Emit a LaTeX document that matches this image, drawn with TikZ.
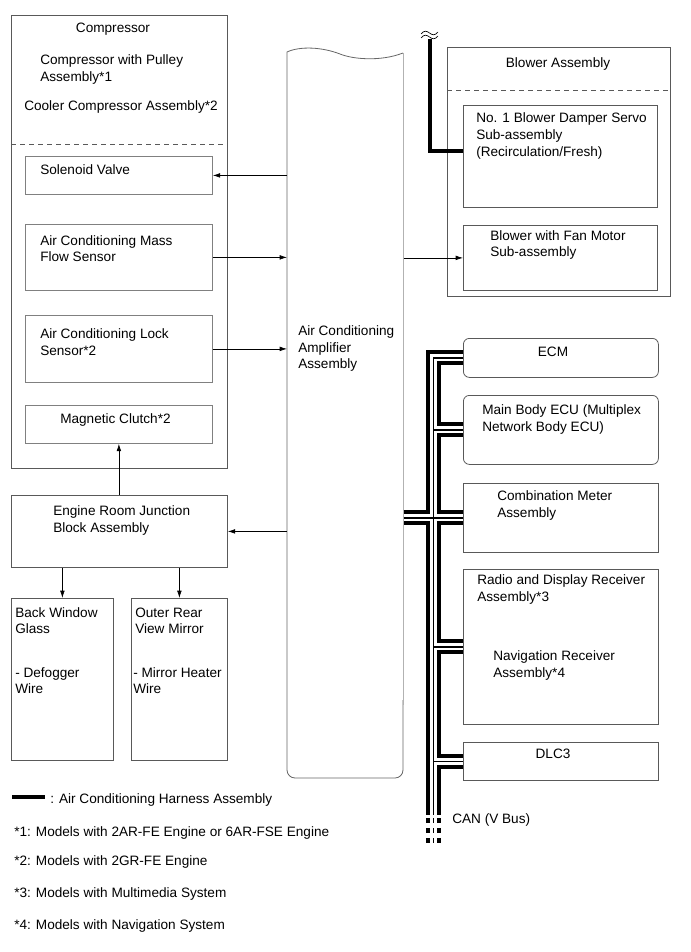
\documentclass[tikz,border=0pt]{standalone}
\usepackage{fontspec}
\setmainfont{Liberation Sans}
\usetikzlibrary{arrows.meta}
\def\u{0.75pt}
\newcommand\bxn[6]{\node[#1, minimum width={#5*\u}, minimum height={#6*\u}] (#2) at (#3,#4) {};}
\begin{document}
\begin{tikzpicture}[x=0.75pt,y=-0.75pt,
  obox/.style={draw=black!65, line width=0.6pt, anchor=north west, inner sep=0pt},
  ibox/.style={draw=black!50, line width=0.6pt, anchor=north west, inner sep=0pt},
  rbox/.style={obox, rounded corners=4.5pt},
  ghost/.style={anchor=north west, inner sep=0pt},
  txt/.style={anchor=base west, inner sep=0pt, font=\fontsize{10.2}{12}\selectfont},
  ctxt/.style={anchor=base, inner sep=0pt, font=\fontsize{10.2}{12}\selectfont},
  arr/.style={line width=0.5pt, -{Latex[length=5.5pt,width=3.5pt]}},
  harness/.style={line width=3pt},
  dline/.style={draw=black!65, line width=0.6pt, dash pattern=on 3.75pt off 3pt},
]
\useasboundingbox (0,0) rectangle (690,952);

% boxes
\bxn{obox}{comp}{11}{15}{216}{453}
\bxn{ibox}{sol}{25}{156}{187}{38}
\bxn{ibox}{maf}{25}{224}{187}{66}
\bxn{ibox}{lock}{25}{315}{187}{67}
\bxn{ibox}{mag}{25}{405}{187}{38}
\bxn{obox}{eng}{11}{495}{216}{72}
\bxn{obox}{bw}{11}{598}{102}{162}
\bxn{obox}{orm}{131}{598}{96}{162}
\bxn{obox}{blw}{447}{47}{223}{249}
\bxn{obox}{srv}{463}{105}{194}{102}
\bxn{obox}{fan}{463}{225}{194}{65}
\bxn{rbox}{ecm}{463}{338}{195}{39}
\bxn{rbox}{mbe}{463}{395}{195}{69}
\bxn{obox}{cm}{463}{483}{195}{69}
\bxn{obox}{rad}{463}{569}{195}{155}
\bxn{obox}{dlc}{463}{742}{195}{38}
\bxn{ghost}{amp}{287}{48}{116}{730}

\draw[dline] (11,144) -- (227,144);
\draw[dline] (447,90) -- (670,90);

% amplifier outline
\draw[draw=black!60, line width=0.6pt] (403,53) .. controls (380,62) and (352,59) .. (340,54)
  .. controls (322,47) and (300,46) .. (287,52) [rounded corners=6pt] -- (287,778) -- (403,778) -- (403,700);
\draw[draw=black!30, line width=0.6pt] (403,53) -- (403,705);

% texts
\node[ctxt] (t0) at (113,33) {Compressor};
\node[txt] (t1) at (40,65) {Compressor with Pulley};
\node[txt] (t2) at (40,82) {Assembly*1};
\node[txt] (t3) at (24,111) {Cooler Compressor Assembly*2};
\node[txt] (t4) at (40,175) {Solenoid Valve};
\node[txt] (t5) at (40,245) {Air Conditioning Mass};
\node[txt] (t6) at (40,262) {Flow Sensor};
\node[txt] (t7) at (40,338) {Air Conditioning Lock};
\node[txt] (t8) at (40,355) {Sensor*2};
\node[txt] (t9) at (60,423) {Magnetic Clutch*2};
\node[txt] (t10) at (53,515) {Engine Room Junction};
\node[txt] (t11) at (53,532) {Block Assembly};
\node[txt] (t12) at (15,617) {Back Window};
\node[txt] (t13) at (15,633) {Glass};
\node[txt] (t14) at (15,677) {- Defogger};
\node[txt] (t15) at (15,693) {Wire};
\node[txt] (t16) at (135,617) {Outer Rear};
\node[txt] (t17) at (135,633) {View Mirror};
\node[txt] (t18) at (133,677) {- Mirror Heater};
\node[txt] (t19) at (133,693) {Wire};
\node[txt] (t20) at (298,335) {Air Conditioning};
\node[txt] (t21) at (298,352) {Amplifier};
\node[txt] (t22) at (298,368) {Assembly};
\node[ctxt] (t23) at (558,68) {Blower Assembly};
\node[txt] (t24) at (476,123) {No. 1 Blower Damper Servo};
\node[txt] (t25) at (476,140) {Sub-assembly};
\node[txt] (t26) at (476,157) {(Recirculation/Fresh)};
\node[txt] (t27) at (490,240) {Blower with Fan Motor};
\node[txt] (t28) at (490,257) {Sub-assembly};
\node[ctxt] (t29) at (553,356) {ECM};
\node[txt] (t30) at (482,414) {Main Body ECU (Multiplex};
\node[txt] (t31) at (482,431) {Network Body ECU)};
\node[txt] (t32) at (497,500) {Combination Meter};
\node[txt] (t33) at (497,517) {Assembly};
\node[txt] (t34) at (477,584) {Radio and Display Receiver};
\node[txt] (t35) at (477,601) {Assembly*3};
\node[txt] (t36) at (493,660) {Navigation Receiver};
\node[txt] (t37) at (493,677) {Assembly*4};
\node[ctxt] (t38) at (553,758) {DLC3};
\node[txt] (t39) at (452,823) {CAN (V Bus)};
\node[txt] (t40) at (50,803) {: Air Conditioning Harness Assembly};
\node[txt] (t41) at (14,836) {*1: Models with 2AR-FE Engine or 6AR-FSE Engine};
\node[txt] (t42) at (14,865) {*2: Models with 2GR-FE Engine};
\node[txt] (t43) at (14,897) {*3: Models with Multimedia System};
\node[txt] (t44) at (14,929) {*4: Models with Navigation System};

% arrows
\draw[arr] (amp.west |- sol.east) -- (sol.east);
\draw[arr] (maf.east) -- (amp.west |- maf.east);
\draw[arr] (lock.east) -- (amp.west |- lock.east);
\draw[arr] (mag.south |- eng.north) -- (mag.south);
\draw[arr] (amp.west |- eng.east) -- (eng.east);
\draw[arr] (bw.north |- eng.south) -- (bw.north);
\draw[arr] (orm.north |- eng.south) -- (orm.north);
\draw[arr] (amp.east |- fan.west) -- (fan.west);

% harness
\coordinate (hw) at (429.5,39);
\coordinate (hwin) at ([yshift=3.75pt]srv.west);
\draw[harness] (hw) -- (hw |- hwin) -- (hwin);
\draw[line width=0.5pt] (421,34) .. controls (424,30) and (427,31) .. (429.5,33) .. controls (432,35) and (435,36) .. (438,32);
\draw[line width=0.5pt] (421,38) .. controls (424,34) and (427,35) .. (429.5,37) .. controls (432,39) and (435,40) .. (438,36);
\coordinate (lg1) at (12,797);
\coordinate (lg2) at (45,797);
\draw[harness] (lg1) -- (lg2);

% CAN bus
\coordinate (busend) at (433.5,815);
\foreach \w/\c in {15/black,7/white,1.2/black}{
  \draw[line width={\w*\u}, draw=\c] (ecm.west) -- (ecm.west -| busend) -- (busend)
    (mbe.west -| busend) -- (mbe.west)
    (amp.east |- cm.west) -- (cm.west)
    (rad.west -| busend) -- (rad.west)
    (dlc.west -| busend) -- (dlc.west);
}
\foreach \xx/\w in {428/4,433.5/1.6,439/4}{
  \draw[line width={\w*\u}, dash pattern=on 3.75pt off 3.75pt] (\xx,818) -- (\xx,846);
}
\end{tikzpicture}
\end{document}
